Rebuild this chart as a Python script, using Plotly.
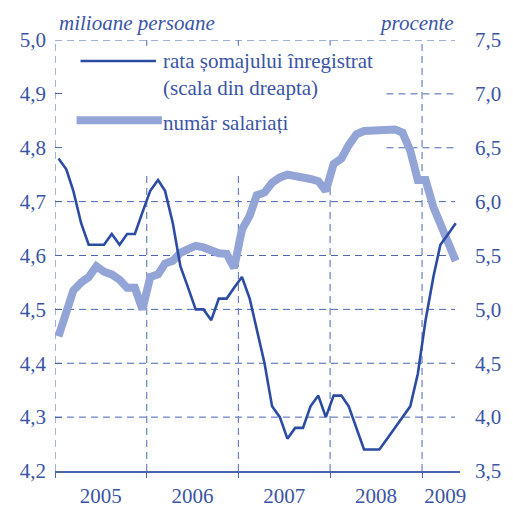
import plotly.graph_objects as go

# ---- data (monthly, Jan 2005 - May 2009) ----
years = [2005, 2006, 2007, 2008, 2009]
months_per_year = [12, 12, 12, 12, 5]

unemployment = [
    6.4, 6.3, 6.1, 5.8, 5.6, 5.6, 5.6, 5.7, 5.6, 5.7, 5.7, 5.9,
    6.1, 6.2, 6.1, 5.8, 5.4, 5.2, 5.0, 5.0, 4.9, 5.1, 5.1, 5.2,
    5.3, 5.1, 4.8, 4.5, 4.1, 4.0, 3.8, 3.9, 3.9, 4.1, 4.2, 4.0,
    4.2, 4.2, 4.1, 3.9, 3.7, 3.7, 3.7, 3.8, 3.9, 4.0, 4.1, 4.4,
    4.9, 5.3, 5.6, 5.7, 5.8,
]

employees = [
    4.45, 4.50, 4.535, 4.55, 4.56, 4.58, 4.57, 4.565, 4.555, 4.54, 4.54, 4.50,
    4.56, 4.565, 4.585, 4.59, 4.605, 4.612, 4.618, 4.615, 4.609, 4.604, 4.603, 4.577,
    4.648, 4.674, 4.712, 4.717, 4.735, 4.745, 4.75, 4.748, 4.745, 4.742, 4.738, 4.72,
    4.77, 4.78, 4.805, 4.825, 4.831, 4.831, 4.834, 4.831, 4.834, 4.828, 4.795, 4.74,
    4.74, 4.69, 4.66, 4.63, 4.59,
]

year_labels = ["2005", "2006", "2007", "2008", "2009"]
year_label_pos = ["2005-07-02", "2006-07-02", "2007-07-02", "2008-07-02", "2009-04-03"]
year_starts = ["2005-01-01", "2006-01-01", "2007-01-01", "2008-01-01", "2009-01-01"]

left_ticks = [4.2, 4.3, 4.4, 4.5, 4.6, 4.7, 4.8, 4.9, 5.0]
right_ticks = [3.5, 4.0, 4.5, 5.0, 5.5, 6.0, 6.5, 7.0, 7.5]

dates = []
for y, n in zip(years, months_per_year):
    for m in range(1, n + 1):
        dates.append(f"{y}-{m:02d}-15")

TEXT = "#3a55a5"
LINE = "#2b4ca2"
GRID = "#4a64b0"
VGRID = "#6a80c2"
BAND = "#93a4d6"
FONT = "Liberation Serif, Times New Roman, DejaVu Serif, serif"
DASH = "7px,5px"

fig = go.Figure()

fig.add_trace(go.Scatter(
    x=dates, y=employees, mode="lines", name="număr salariați",
    line=dict(color=BAND, width=8), yaxis="y", showlegend=False,
))
fig.add_trace(go.Scatter(
    x=dates, y=unemployment, mode="lines", name="rata șomajului înregistrat",
    line=dict(color=LINE, width=2.6), yaxis="y2", showlegend=False,
))

W, H = 513, 520
ml, mr, mt, mb = 55, 45, 40, 29
pw, ph = W - ml - mr, H - mt - mb

def px(x):
    return (x - ml) / pw

def py(y):
    return (H - mb - y) / ph

fig.update_layout(
    width=W, height=H,
    margin=dict(l=ml, r=mr, t=mt, b=mb),
    paper_bgcolor="white", plot_bgcolor="white",
    separators=", ",
    hovermode=False,
    font=dict(family=FONT, size=21, color=TEXT),
    xaxis=dict(
        type="date",
        range=["2005-01-01", "2009-06-01"],
        tickvals=year_label_pos, ticktext=year_labels,
        ticks="", showgrid=False,
        showline=True, linecolor=GRID, linewidth=1.5,
        minor=dict(tickvals=year_starts, ticks="outside", ticklen=5,
                   tickcolor=GRID, showgrid=False),
        ticklabelstandoff=5,
        zeroline=False,
        tickfont=dict(family=FONT, size=21, color=TEXT),
    ),
    yaxis=dict(
        range=[4.2, 5.0], tickvals=left_ticks, tickformat=".1f",
        showgrid=False,
        ticks="inside", ticklen=7, tickcolor=GRID,
        ticklabelstandoff=8,
        zeroline=False, showline=False,
        tickfont=dict(family=FONT, size=21, color=TEXT),
    ),
    yaxis2=dict(
        range=[3.5, 7.5], tickvals=right_ticks, tickformat=".1f",
        overlaying="y", side="right",
        showgrid=False, zeroline=False, showline=False, ticks="",
        ticklabelstandoff=14,
        tickfont=dict(family=FONT, size=21, color=TEXT),
    ),
)

shapes = []
# horizontal dashed gridlines (4.9 and 4.8 are interrupted by the legend)
for v in left_ticks[1:]:
    x_start = 393 if v in (4.8, 4.9) else 55
    shapes.append(dict(type="line", xref="paper", yref="y",
                       x0=px(x_start), x1=px(463), y0=v, y1=v, layer="below",
                       line=dict(color=GRID, width=1, dash=DASH)))
# vertical dashed year gridlines (middle ones stop below the legend)
for i, xs in enumerate(year_starts):
    full = i in (0, len(year_starts) - 1)
    top = 1.0 if full else py(178)
    shapes.append(dict(type="line", xref="x", yref="paper",
                       x0=xs, x1=xs, y0=0, y1=top, layer="below",
                       line=dict(color=VGRID, width=1.2, dash=DASH)))
    if not full:
        shapes.append(dict(type="line", xref="x", yref="paper",
                           x0=xs, x1=xs, y0=py(46), y1=1.0, layer="below",
                           line=dict(color=VGRID, width=1.2)))
shapes += [
    # legend symbols
    dict(type="line", xref="paper", yref="paper",
         x0=px(81), x1=px(158), y0=py(62), y1=py(62),
         line=dict(color=LINE, width=2.6)),
    dict(type="line", xref="paper", yref="paper",
         x0=px(77), x1=px(164), y0=py(124), y1=py(124),
         line=dict(color=BAND, width=8)),
]
fig.update_layout(shapes=shapes)

annotations = [
    dict(text="rata șomajului înregistrat<br>(scala din dreapta)",
         xref="paper", yref="paper", x=px(163), y=py(76),
         xanchor="left", yanchor="middle", showarrow=False, align="left",
         font=dict(family=FONT, size=21, color=TEXT)),
    dict(text="număr salariați",
         xref="paper", yref="paper", x=px(163), y=py(127),
         xanchor="left", yanchor="middle", showarrow=False, align="left",
         font=dict(family=FONT, size=21, color=TEXT)),
    dict(text="<i>milioane persoane</i>",
         xref="paper", yref="paper", x=px(57), y=py(22),
         xanchor="left", yanchor="middle", showarrow=False,
         font=dict(family=FONT, size=21, color=TEXT)),
    dict(text="<i>procente</i>",
         xref="paper", yref="paper", x=px(464), y=py(22),
         xanchor="right", yanchor="middle", showarrow=False,
         font=dict(family=FONT, size=21, color=TEXT)),
]
fig.update_layout(annotations=annotations)

fig.write_html("out.html", post_script="document.body.style.margin='0';",
               config={"displayModeBar": False})
